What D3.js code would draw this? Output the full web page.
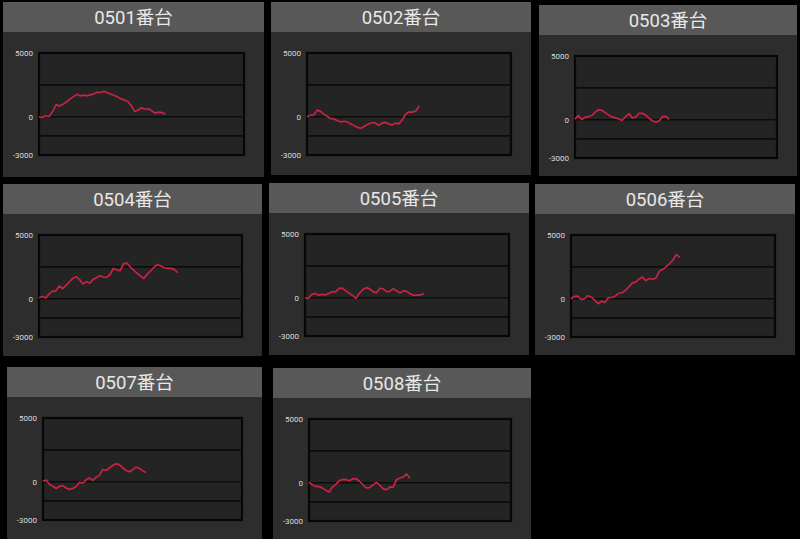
<!DOCTYPE html>
<html>
<head>
<meta charset="utf-8">
<script src="https://cdn.jsdelivr.net/npm/d3@7/dist/d3.min.js"></script>
<style>
  html, body { margin: 0; padding: 0; background: #000; }
  svg { display: block; }
</style>
</head>
<body>
<svg id="chart" width="800" height="539"></svg>
<script>
// machine names
var machines = ["0501番台", "0502番台", "0503番台", "0504番台", "0505番台", "0506番台", "0507番台", "0508番台"];

// running balance per machine, one value per game step
var s0501 = [0, -50, 80, 20, 420, 950, 850, 980, 1150, 1380, 1560, 1760, 1640, 1690, 1640, 1720, 1790, 1920, 1900, 1990,
  1880, 1780, 1670, 1560, 1400, 1320, 1200, 870, 420, 530, 710, 590, 630, 460, 280, 360, 320, 220];
var s0502 = [0, 120, 140, 520, 420, 200, 20, -150, -170, -310, -400, -350, -430, -580, -710, -860, -900, -730, -580, -470,
  -470, -680, -520, -440, -560, -650, -500, -560, -250, 200, 380, 360, 450, 870];
var s0503 = [50, 320, 20, 200, 240, 330, 600, 790, 730, 560, 380, 200, 150, 60, -60, 250, 480, 150, 200, 510,
  500, 370, 120, -80, -200, -90, 250, 260, 30];
var s0504 = [80, 180, 60, 380, 600, 620, 1000, 790, 1050, 1320, 1610, 1730, 1500, 1150, 1340, 1220, 1520, 1650, 1800, 1700,
  1680, 1900, 2380, 2250, 2200, 2750, 2800, 2480, 2250, 2000, 1780, 1590, 1930, 2180, 2470, 2690, 2560, 2430, 2380, 2380,
  2300, 2050];
var s0505 = [0, -50, 260, 330, 200, 260, 220, 330, 470, 460, 740, 760, 540, 360, 170, -50, 350, 640, 790, 700,
  480, 380, 730, 700, 480, 500, 720, 520, 380, 560, 480, 290, 180, 200, 220, 330];
var s0506 = [0, 180, 200, -60, 10, 240, 120, -120, -390, -180, -300, 90, 100, 200, 430, 470, 650, 930, 1230, 1300,
  1540, 1700, 1420, 1590, 1530, 1630, 2170, 2310, 2520, 2750, 3060, 3460, 3250];
var s0507 = [50, 130, -210, -350, -530, -350, -300, -500, -600, -520, -380, -50, -100, 150, 300, 100, 340, 500, 960, 880,
  1080, 1270, 1420, 1340, 1100, 900, 790, 930, 1150, 1060, 870, 730];
var s0508 = [50, -160, -290, -300, -420, -580, -730, -320, -130, 170, 260, 240, 160, 320, 310, 120, -160, -400, -380, -180,
  30, -180, -460, -560, -340, -350, 240, 370, 460, 690, 350];

var series = [s0501, s0502, s0503, s0504, s0505, s0506, s0507, s0508];

// axis
var yTickLabels = [5000, 0, -3000];
var yGridLines = [2500, 0, -1500];
var yDomain = [-3000, 5000];
var xSteps = 60;

// where each panel sits in the collage
var boxes = [
  {x: 3, y: 2, w: 261, h: 175},
  {x: 271, y: 2, w: 260, h: 173},
  {x: 539, y: 5, w: 258, h: 171},
  {x: 3, y: 184, w: 259, h: 172},
  {x: 269, y: 183, w: 260, h: 172},
  {x: 535, y: 184, w: 260, h: 171},
  {x: 7, y: 367, w: 255, h: 172},
  {x: 273, y: 368, w: 258, h: 171}
];

var svg = d3.select("#chart");
svg.append("rect").attr("width", 800).attr("height", 539).attr("fill", "#000");

machines.forEach(function(name, i) {
  var b = boxes[i];
  var g = svg.append("g").attr("transform", "translate(" + b.x + "," + b.y + ")");

  var left = 36, right = b.w - 20, top = 51, bottom = 153;

  g.append("rect").attr("width", b.w).attr("height", b.h).attr("fill", "#2d2d2d");
  g.append("rect").attr("width", b.w).attr("height", 30).attr("fill", "#585858");
  g.append("text")
    .attr("x", b.w / 2).attr("y", 16)
    .attr("dy", "0.35em")
    .attr("text-anchor", "middle")
    .attr("font-family", "Roboto, 'Noto Sans CJK JP', sans-serif")
    .attr("font-size", 18.5)
    .attr("fill", "#e8e8e8")
    .text(name);

  var x = d3.scaleLinear().domain([0, xSteps]).range([left, right]);
  var y = d3.scaleLinear().domain(yDomain).range([bottom, top]);

  g.append("rect")
    .attr("x", left).attr("y", top)
    .attr("width", right - left).attr("height", bottom - top)
    .attr("fill", "#242424")
    .attr("stroke", "#070707").attr("stroke-width", 2.2);

  g.selectAll(".grid")
    .data(yGridLines)
    .enter().append("line")
    .attr("x1", left).attr("x2", right)
    .attr("y1", function(d) { return y(d); })
    .attr("y2", function(d) { return y(d); })
    .attr("stroke", "#0c0c0c").attr("stroke-width", 1.6);

  g.selectAll(".tick")
    .data(yTickLabels)
    .enter().append("text")
    .attr("x", left - 6)
    .attr("y", function(d) { return y(d); })
    .attr("dy", "0.35em")
    .attr("text-anchor", "end")
    .attr("font-family", "Roboto, sans-serif")
    .attr("font-size", 8)
    .attr("fill", "#dcdcdc")
    .text(function(d) { return d; });

  var line = d3.line()
    .x(function(d, k) { return x(k); })
    .y(function(d) { return y(d); });

  g.append("path")
    .datum(series[i])
    .attr("d", line)
    .attr("fill", "none")
    .attr("stroke", "#c92343")
    .attr("stroke-width", 1.7)
    .attr("stroke-linejoin", "round");
});
</script>
</body>
</html>
